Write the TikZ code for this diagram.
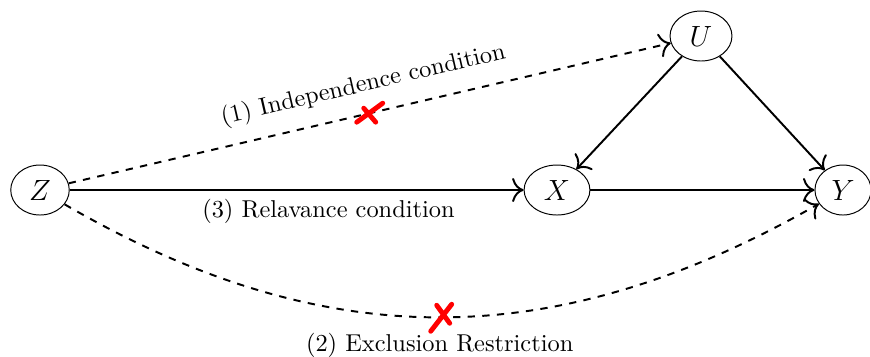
\documentclass[tikz,border=0pt]{standalone}
\usetikzlibrary{shapes.geometric,arrows.meta}
\begin{document}
\begin{tikzpicture}[x=0.41pt,y=-0.41pt,
  var/.style={draw, ellipse, line width=0.4pt, inner sep=0pt, font=\large},
  edge/.style={-{To[scale=1.4]}, thick},
  dedge/.style={-{To[scale=1.4]}, thick, dashed},
  redx/.style={draw=red, line width=2pt, line cap=round}]
\useasboundingbox (0,0) rectangle (870,356);
\node[var, minimum width=24pt, minimum height=20.5pt] (Z) at (40,190) {$Z$};
\node[var, minimum width=27pt, minimum height=20.5pt] (X) at (557,190) {$X$};
\node[var, minimum width=25.4pt, minimum height=20.5pt] (U) at (701,36) {$U$};
\node[var, minimum width=23pt, minimum height=20.5pt] (Y) at (843,190) {$Y$};
\draw[dedge] (Z) -- coordinate[midway] (m1) node[midway, sloped, above=3pt] (l1) {(1) Independence condition} (U);
\draw[edge] (Z) -- node[pos=0.57, below] (l3) {(3) Relavance condition} (X);
\draw[edge] (X) -- (Y);
\draw[edge] (U) -- (X);
\draw[edge] (U) -- (Y);
\draw[dedge] (Z) .. controls (324,355) and (554,355) .. coordinate[pos=0.5] (m2) node[pos=0.5, below=3pt] (l2) {(2) Exclusion Restriction} (Y);
\draw[redx, shift={(m1)}] (-13,9) -- (13,-10) (-6,-5) -- (6,9);
\draw[redx, shift={(m2)}] (-9,14) -- (12,-13) (-3,-12) -- (10,6);
\end{tikzpicture}
\end{document}
